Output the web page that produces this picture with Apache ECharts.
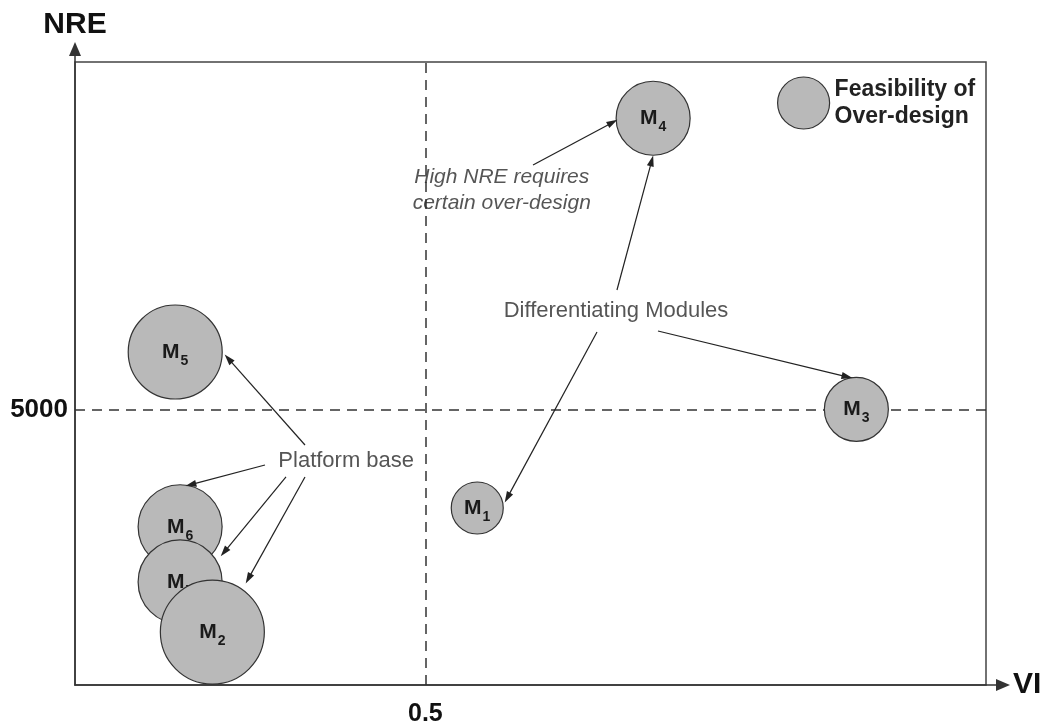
<!DOCTYPE html>
<html>
<head>
<meta charset="utf-8">
<script src="https://cdn.jsdelivr.net/npm/echarts@6/dist/echarts.min.js"></script>
<style>
html, body { margin: 0; padding: 0; background: #fff; }
#main { width: 1048px; height: 727px; }
</style>
</head>
<body>
<div id="main"></div>
<script>
// 模块：VI - NRE，气泡大小 = 过设计可行性
var modules = ['M1', 'M2', 'M3', 'M4', 'M5', 'M6', 'M7'];
var vi = [0.574, 0.196, 1.115, 0.825, 0.143, 0.150, 0.150];
var nre = [3210, 960, 5000, 10280, 6040, 2870, 1870];
var feasibility = [26, 52, 32, 37, 47, 42, 42];

var legendName = 'Feasibility of\nOver-design';
var viTicks = [0.5];
var nreTicks = [5000];

// 注释文字
var noteText = ['High NRE requires\ncertain over-design', 'Differentiating Modules', 'Platform base'];
var noteX = [0.609, 0.772, 0.387];
var noteY = [8980, 6785, 4065];

// 箭头：起点 -> 终点
var arrowFrom = [[0.6536, 9432], [0.7734, 7165], [0.7449, 6403], [0.8319, 6421],
                 [0.3282, 4353], [0.2711, 3990], [0.3011, 3773], [0.3282, 3773]];
var arrowTo = [[0.7671, 10204], [0.8230, 9508], [0.6170, 3399], [1.1018, 5590],
               [0.2188, 5918], [0.1652, 3633], [0.2129, 2411], [0.2474, 1930]];

var font = 'Liberation Sans, Arial, sans-serif';
var myChart = echarts.init(document.getElementById('main'));

// 下面的气泡画在上面
var order = modules.map(function (m, i) { return i; });
order.sort(function (a, b) { return nre[b] - nre[a]; });

var series = [];
series.push({
	type: 'scatter',
	name: 'refs',
	z: 1,
	data: [],
	markLine: {
		z: 1,
		silent: true,
		symbol: ['none', 'none'],
		label: { show: false },
		lineStyle: { type: [10, 7], color: '#333', width: 1.5 },
		data: [{ xAxis: viTicks[0] }, { yAxis: nreTicks[0] }]
	}
});

for (var r = 0; r < order.length; r++) {
	var i = order[r];
	series.push({
		type: 'scatter',
		name: legendName,
		z: 3 + r,
		silent: true,
		data: [{ value: [vi[i], nre[i]], name: modules[i] }],
		symbolSize: feasibility[i] * 2,
		itemStyle: { color: '#b9b9b9', borderColor: '#333', borderWidth: 1.2, opacity: 1 },
		label: {
			show: true,
			position: 'inside',
			formatter: '{m|M}{s|' + modules[i].slice(1) + '}',
			rich: {
				m: { fontSize: 21, fontWeight: 'bold', color: '#1a1a1a', fontFamily: font },
				s: { fontSize: 14, fontWeight: 'bold', color: '#1a1a1a', fontFamily: font, padding: [18, 0, 0, 1] }
			}
		}
	});
}

var notes = [];
for (var k = 0; k < noteText.length; k++) {
	var item = { value: [noteX[k], noteY[k]], name: noteText[k] };
	if (k == 0) {
		item.label = { fontStyle: 'italic', fontSize: 21, lineHeight: 26 };
	}
	notes.push(item);
}
var arrows = [];
for (var a = 0; a < arrowFrom.length; a++) {
	arrows.push([{ coord: arrowFrom[a] }, { coord: arrowTo[a] }]);
}
series.push({
	type: 'scatter',
	name: 'notes',
	z: 20,
	silent: true,
	symbolSize: 1,
	itemStyle: { color: 'rgba(0,0,0,0)' },
	data: notes,
	label: {
		show: true,
		position: 'inside',
		formatter: '{b}',
		fontSize: 22,
		color: '#2a2a2a',
		fontFamily: font
	},
	markLine: {
		z: 30,
		silent: true,
		symbol: ['none', 'triangle'],
		symbolSize: [7, 11],
		label: { show: false },
		lineStyle: { type: 'solid', color: '#222', width: 1.2 },
		data: arrows
	}
});

var option = {
	animation: false,
	legend: {
		data: [legendName],
		left: 772,
		top: 71,
		icon: 'circle',
		itemWidth: 52,
		itemHeight: 52,
		selectedMode: false,
		itemStyle: { color: '#b9b9b9', borderColor: '#333', borderWidth: 1.2 },
		textStyle: { fontSize: 23, fontWeight: 'bold', lineHeight: 27, color: '#222', fontFamily: font }
	},
	grid: [
		{ left: 75, right: 62, top: 62, bottom: 42, show: true, borderColor: '#444', borderWidth: 1.5 },
		{ left: 75, right: 45, top: 49, bottom: 42 }
	],
	xAxis: [{
		gridIndex: 0,
		type: 'value',
		min: 0,
		max: 1.3,
		axisLine: { show: false },
		axisTick: { show: false },
		splitLine: { show: false },
		axisLabel: {
			customValues: viTicks,
			margin: 17,
			fontSize: 25,
			fontWeight: 'bold',
			color: '#111',
			fontFamily: font
		}
	}, {
		gridIndex: 1,
		type: 'value',
		min: 0,
		max: 1,
		axisLine: { show: true, symbol: ['none', 'triangle'], symbolSize: [12, 14], lineStyle: { color: '#333', width: 1.5 } },
		axisTick: { show: false },
		axisLabel: { show: false },
		splitLine: { show: false },
		name: 'VI',
		nameLocation: 'end',
		nameGap: 10,
		nameTextStyle: { fontSize: 30, fontWeight: 'bold', color: '#111', fontFamily: font }
	}],
	yAxis: [{
		gridIndex: 0,
		type: 'value',
		min: 0,
		max: 11300,
		axisLine: { show: false },
		axisTick: { show: false },
		splitLine: { show: false },
		axisLabel: {
			customValues: nreTicks,
			margin: 7,
			fontSize: 26,
			fontWeight: 'bold',
			color: '#111',
			fontFamily: font,
			formatter: function (v) { return String(v); }
		}
	}, {
		gridIndex: 1,
		type: 'value',
		min: 0,
		max: 1,
		axisLine: { show: true, symbol: ['none', 'triangle'], symbolSize: [12, 14], lineStyle: { color: '#333', width: 1.5 } },
		axisTick: { show: false },
		axisLabel: { show: false },
		splitLine: { show: false },
		name: 'NRE',
		nameLocation: 'end',
		nameGap: 9,
		nameTextStyle: { fontSize: 30, fontWeight: 'bold', color: '#111', fontFamily: font }
	}],
	series: series
};
myChart.setOption(option);

window.addEventListener('resize', function () {
	myChart.resize();
});
</script>
</body>
</html>
